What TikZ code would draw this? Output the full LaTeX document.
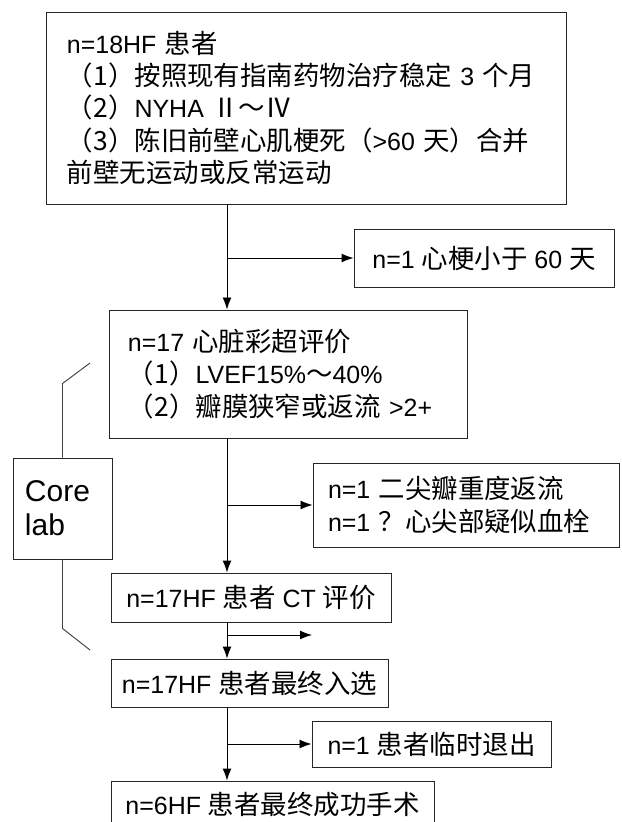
\documentclass[tikz,border=0pt]{standalone}
\usepackage{fontspec}
\setmainfont{Liberation Sans}
\newfontfamily\cjk[Scale=1.06]{Noto Sans CJK SC}
\newcommand\zh[1]{{\cjk #1}}
\usetikzlibrary{positioning,arrows.meta}

\begin{document}
\begin{tikzpicture}[x=0.03cm,y=-0.03cm,
                    >={Latex[length=3.6mm,width=2.7mm]},
                    box/.style={draw=black!85,line width=0.8pt,inner ysep=0pt,
                                font=\fontsize{21.3}{27.7}\selectfont},
                    link/.style={black,line width=0.8pt},
                    bracket/.style={draw=black!75,line width=0.8pt}]
    \useasboundingbox (0,0) rectangle (621,822);

    %Nodes
    \node[box,align=left,text width=14.34cm,inner xsep=0.63cm,minimum height=5.76cm] (crit) at (306,108)
        {n=18HF \zh{患者}\\
         \zh{（1）按照现有指南药物治疗稳定}~3~\zh{个月}\\
         \zh{（2）}NYHA~\zh{Ⅱ～Ⅳ}\\
         \zh{（3）陈旧前壁心肌梗死（}>60~\zh{天）合并}\\
         \zh{前壁无运动或反常运动}};
    \node[box,minimum width=7.8cm,minimum height=1.74cm] (mi) at (484,258)
        {n=1 \zh{心梗小于} 60 \zh{天}};
    \node[box,align=left,text width=9.6cm,inner xsep=0.57cm,minimum height=3.84cm] (echo) at (288,374)
        {n=17 \zh{心脏彩超评价}\\
         \zh{（1）}LVEF15\%\zh{～}40\%\\
         \zh{（2）瓣膜狭窄或返流}~>2+};
    \node[box,align=left,text width=8.28cm,inner xsep=0.45cm,minimum height=2.52cm] (valve) at (466,505)
        {n=1 \zh{二尖瓣重度返流}\\
         n=1 \zh{？心尖部疑似血栓}};
    \node[box,minimum width=8.4cm,minimum height=1.47cm] (ct) at (251,597.5)
        {n=17HF \zh{患者} CT \zh{评价}};
    \node[box,minimum width=8.31cm,minimum height=1.44cm] (enrol) at (249.5,683)
        {n=17HF \zh{患者最终入选}};
    \node[box,minimum width=7.17cm,minimum height=1.38cm] (quit) at (431.5,744)
        {n=1 \zh{患者临时退出}};
    \node[box,minimum width=9.69cm,minimum height=1.44cm] (final) at (272.5,805)
        {n=6HF \zh{患者最终成功手术}};
    \node[box,align=left,text width=2.25cm,inner xsep=0.36cm,minimum height=3.03cm,
          font=\fontsize{25.6}{29}\selectfont] (core) at (62.5,508.5)
        {Core\\lab};

    \coordinate (spine) at (227,0);
    \coordinate (ctout) at (312,635);
    \coordinate (echotop) at (90,363);
    \coordinate (ctbot) at (90,650);

    %Lines
    \draw[link,->] (crit.south -| spine) -- (echo.north -| spine);
    \draw[link,->] (spine |- mi.west) -- (mi.west);
    \draw[link,->] (echo.south -| spine) -- (ct.north -| spine);
    \draw[link,->] (spine |- valve.west) -- (valve.west);
    \draw[link,->] (ct.south -| spine) -- (enrol.north -| spine);
    \draw[link,->] (spine |- ctout) -- (ctout);
    \draw[link,->] (enrol.south -| spine) -- (final.north -| spine);
    \draw[link,->] (spine |- quit.west) -- (quit.west);

    %Core lab bracket
    \draw[bracket] (core.north) -- ++(0,-74) -- (echotop);
    \draw[bracket] (core.south) -- ++(0,69) -- (ctbot);
\end{tikzpicture}
\end{document}
